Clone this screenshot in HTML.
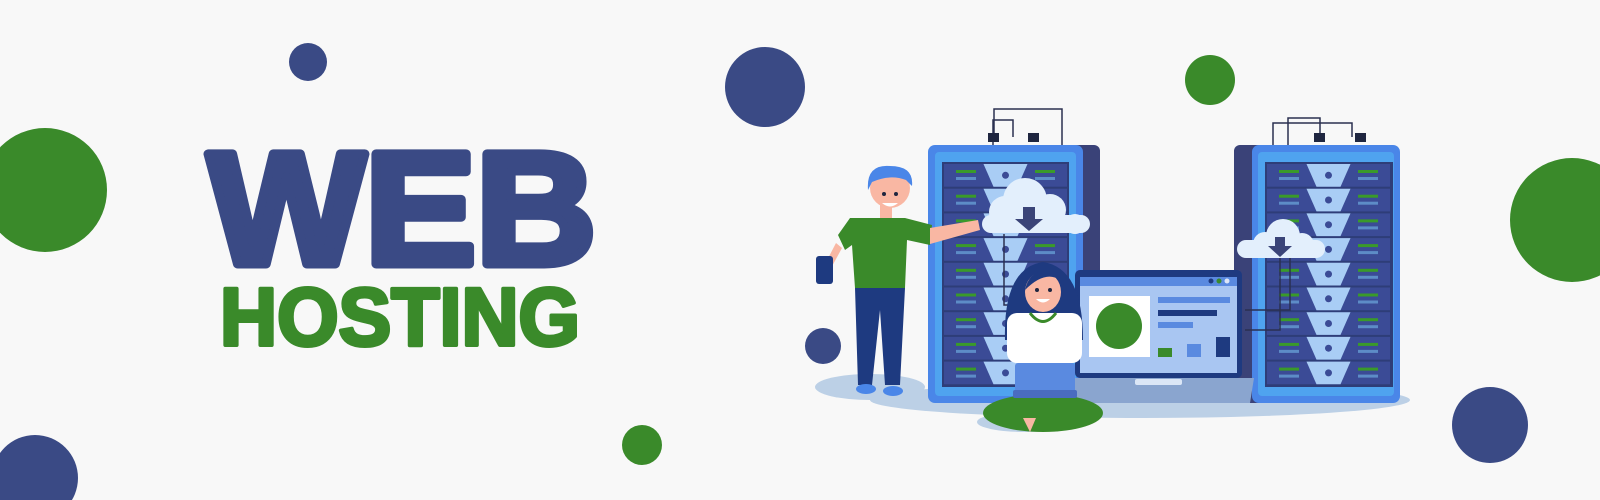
<!DOCTYPE html>
<html><head><style>
html,body{margin:0;padding:0;background:#f8f8f8;overflow:hidden}
svg{display:block}
</style></head><body>
<svg width="1600" height="500" viewBox="0 0 1600 500" xmlns="http://www.w3.org/2000/svg" xmlns:xlink="http://www.w3.org/1999/xlink">
<defs>
<g id="rowL">
<rect x="0" y="0" width="123" height="22.7" fill="#3b4b96"/>
<path d="M39.5 0 H83.5 L73.5 22.7 H49.5 Z" fill="#a9cdf5"/>
<circle cx="61.5" cy="11.3" r="3.5" fill="#3b4b96"/>
<rect x="12" y="6" width="20" height="3" fill="#3a9a2a"/><rect x="12" y="13" width="20" height="3" fill="#5d8cc7"/>
<rect x="91" y="6" width="20" height="3" fill="#3a9a2a"/><rect x="91" y="13" width="20" height="3" fill="#5d8cc7"/>
</g>
</defs>
<rect width="1600" height="500" fill="#f8f8f8"/>
<circle cx="308" cy="62" r="19" fill="#3a4a85"/>
<circle cx="765" cy="87" r="40" fill="#3a4a85"/>
<circle cx="1210" cy="80" r="25" fill="#3a8a2a"/>
<circle cx="45" cy="190" r="62" fill="#3a8a2a"/>
<circle cx="1572" cy="220" r="62" fill="#3a8a2a"/>
<circle cx="823" cy="346" r="18" fill="#3a4a85"/>
<circle cx="642" cy="445" r="20" fill="#3a8a2a"/>
<circle cx="1490" cy="425" r="38" fill="#3a4a85"/>
<circle cx="35" cy="478" r="43" fill="#3a4a85"/>
<text x="208" y="264" font-family="Liberation Sans, sans-serif" font-weight="900" font-size="160" fill="#3a4a85" stroke="#3a4a85" stroke-width="9" stroke-linejoin="round" textLength="388" lengthAdjust="spacingAndGlyphs">WEB</text>
<text x="220" y="345" font-family="Liberation Sans, sans-serif" font-weight="700" font-size="82" fill="#3a8a2a" stroke="#3a8a2a" stroke-width="4" stroke-linejoin="round" textLength="360" lengthAdjust="spacingAndGlyphs">HOSTING</text>
<ellipse cx="1140" cy="400" rx="270" ry="18" fill="#bcd0e6"/>
<ellipse cx="870" cy="387" rx="55" ry="13" fill="#bcd0e6"/>
<ellipse cx="1025" cy="422" rx="48" ry="10" fill="#bcd0e6"/>
<g fill="none" stroke="#2a3050" stroke-width="1.5">
<path d="M994 137 V109 H1062 V190"/>
<path d="M1013 137 V120 H993 V190"/>
<path d="M1004 234 V305 H1020"/>
<path d="M1320 137 V118 H1288 V218"/>
<path d="M1352 137 V123 H1273 V225"/>
<path d="M1290 258 V310 H1245"/>
<path d="M1280 258 V330 H1245"/>
</g>
<rect x="988" y="133" width="11" height="9" fill="#1f2640"/>
<rect x="1028" y="133" width="11" height="9" fill="#1f2640"/>
<rect x="1314" y="133" width="11" height="9" fill="#1f2640"/>
<rect x="1355" y="133" width="11" height="9" fill="#1f2640"/>
<!-- left rack -->
<rect x="1060" y="145" width="40" height="258" rx="6" fill="#3a4278"/>
<rect x="928" y="145" width="155" height="258" rx="7" fill="#4a86e8"/>
<rect x="935" y="152" width="141" height="244" rx="4" fill="#4fa3ef"/>
<rect x="942" y="162" width="127" height="225" fill="#2e3d78"/>
<use xlink:href="#rowL" x="944" y="164"/>
<use xlink:href="#rowL" x="944" y="188.7"/>
<use xlink:href="#rowL" x="944" y="213.4"/>
<use xlink:href="#rowL" x="944" y="238.1"/>
<use xlink:href="#rowL" x="944" y="262.8"/>
<use xlink:href="#rowL" x="944" y="287.5"/>
<use xlink:href="#rowL" x="944" y="312.2"/>
<use xlink:href="#rowL" x="944" y="336.9"/>
<use xlink:href="#rowL" x="944" y="361.6"/>
<!-- right rack -->
<rect x="1234" y="145" width="40" height="258" rx="6" fill="#3a4278"/>
<rect x="1252" y="145" width="148" height="258" rx="7" fill="#4a86e8"/>
<rect x="1258" y="152" width="136" height="244" rx="4" fill="#4fa3ef"/>
<rect x="1265" y="162" width="128" height="225" fill="#2e3d78"/>
<use xlink:href="#rowL" x="1267" y="164"/>
<use xlink:href="#rowL" x="1267" y="188.7"/>
<use xlink:href="#rowL" x="1267" y="213.4"/>
<use xlink:href="#rowL" x="1267" y="238.1"/>
<use xlink:href="#rowL" x="1267" y="262.8"/>
<use xlink:href="#rowL" x="1267" y="287.5"/>
<use xlink:href="#rowL" x="1267" y="312.2"/>
<use xlink:href="#rowL" x="1267" y="336.9"/>
<use xlink:href="#rowL" x="1267" y="361.6"/>
<g fill="none" stroke="#2a3050" stroke-width="1.5">
<path d="M1290 258 V310 H1245"/>
<path d="M1280 258 V330 H1245"/>
<path d="M1004 234 V305 H1020"/>
</g>
<!-- monitor -->
<rect x="1075" y="270" width="167" height="108" rx="5" fill="#1e3a80"/>
<rect x="1080" y="277" width="157" height="96" fill="#a9c6f2"/>
<rect x="1080" y="277" width="157" height="9" fill="#5a8ae0"/>
<circle cx="1211" cy="281" r="2.5" fill="#1e3a80"/><circle cx="1219" cy="281" r="2.5" fill="#3a8a2a"/><circle cx="1227" cy="281" r="2.5" fill="#dde6f7"/>
<rect x="1089" y="296" width="61" height="61" fill="#fff"/>
<circle cx="1119" cy="326" r="23" fill="#3a8a2a"/>
<rect x="1158" y="297" width="72" height="6" fill="#5a8ae0"/>
<rect x="1158" y="310" width="59" height="6" fill="#1e3a80"/>
<rect x="1158" y="322" width="35" height="6" fill="#5a8ae0"/>
<rect x="1158" y="348" width="14" height="9" fill="#3a8a2a"/>
<rect x="1187" y="344" width="14" height="13" fill="#5a8ae0"/>
<rect x="1216" y="337" width="14" height="20" fill="#1e3a80"/>
<path d="M1070 378 H1254 L1250 403 H1074 Z" fill="#8aa5cf"/>
<rect x="1135" y="379" width="47" height="6" rx="2" fill="#dbe6f6"/>
<!-- clouds -->
<g fill="#e3effc">
<circle cx="1025" cy="200" r="22"/>
<circle cx="1005" cy="212" r="16"/>
<circle cx="1050" cy="210" r="16"/>
<circle cx="1075" cy="224" r="10"/>
<rect x="982" y="215" width="108" height="18" rx="9"/>
<circle cx="1283" cy="236" r="17"/>
<circle cx="1265" cy="244" r="12"/>
<circle cx="1302" cy="245" r="12"/>
<rect x="1237" y="240" width="88" height="18" rx="9"/>
</g>
<path d="M1023 207 h12 v12 h8 l-14 12 l-14 -12 h8z" fill="#3a4478"/>
<path d="M1275 237 h10 v9 h7 l-12 11 l-12 -11 h7z" fill="#3a4478"/>
<!-- man -->
<path d="M855 288 H905 L900 385 H885 L880 310 L872 385 H858 Z" fill="#1e3a80"/>
<ellipse cx="866" cy="389" rx="10" ry="5" fill="#4a86e8"/>
<ellipse cx="893" cy="391" rx="10" ry="5" fill="#4a86e8"/>
<path d="M838 235 L850 218 H905 L932 225 L930 245 L907 240 L905 288 H855 L852 245 L845 250 Z" fill="#3a8a2a"/>
<path d="M930 228 L978 220 L980 230 L930 244 Z" fill="#f9b7a3"/>
<path d="M842 248 L830 270 L823 268 L836 243 Z" fill="#f9b7a3"/>
<rect x="816" y="256" width="17" height="28" rx="3" fill="#1e3a80"/>
<rect x="880" y="200" width="12" height="18" fill="#f9b7a3"/>
<ellipse cx="890" cy="188" rx="20" ry="20" fill="#f9b7a3"/>
<path d="M868 190 Q866 164 890 166 Q914 166 912 186 L906 180 Q890 174 872 182 Z" fill="#4a86e8"/>
<circle cx="884" cy="194" r="2" fill="#1f2640"/><circle cx="896" cy="194" r="2" fill="#1f2640"/>
<path d="M882 203 Q890 210 898 203 Z" fill="#fff"/>
<!-- girl -->
<path d="M1005 340 Q1003 268 1043 262 Q1083 268 1083 340 Z" fill="#1e3a80"/>
<rect x="1007" y="313" width="75" height="50" rx="10" fill="#fff"/>
<path d="M1030 313 Q1043 330 1056 313" fill="none" stroke="#3a8a2a" stroke-width="3"/>
<ellipse cx="1043" cy="292" rx="18" ry="20" fill="#f9b7a3"/>
<path d="M1025 290 Q1030 268 1050 272 Q1060 278 1061 290 L1060 280 Q1045 270 1025 290 Z" fill="#1e3a80"/>
<circle cx="1037" cy="290" r="2" fill="#1f2640"/><circle cx="1050" cy="290" r="2" fill="#1f2640"/>
<path d="M1036 299 Q1043 306 1050 299 Z" fill="#fff"/>
<ellipse cx="1043" cy="413" rx="60" ry="19" fill="#3a8a2a"/>
<rect x="1015" y="363" width="60" height="32" rx="3" fill="#5a8ae0"/>
<rect x="1013" y="390" width="64" height="8" rx="2" fill="#4a6cc0"/>
<path d="M1023 418 L1030 432 L1036 418 Z" fill="#f9b7a3"/>
</svg>
</body></html>
